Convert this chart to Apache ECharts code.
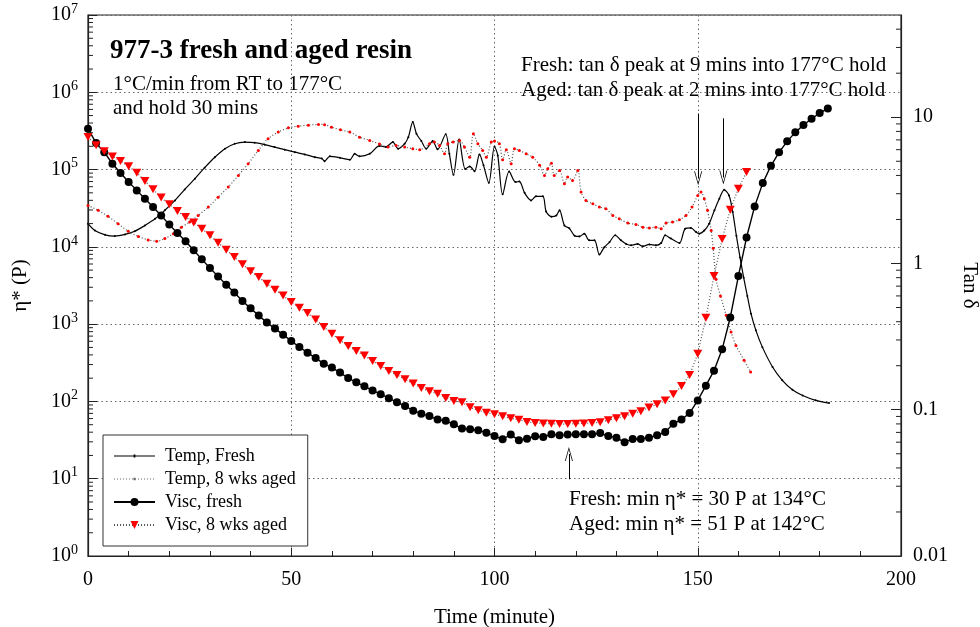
<!DOCTYPE html>
<html><head><meta charset="utf-8">
<script src="https://cdn.jsdelivr.net/npm/echarts@6/dist/echarts.min.js"></script>
<style>html,body{margin:0;padding:0;background:#fff}#c{width:980px;height:627px}</style>
</head><body><div id="c"></div>
<script>
// ---- data ----
const viscFreshTime = [0,2,4,6,8,10,12,14,16,18,20,22,24,26,28,30,32,34,36,38,40,42,44,46,48,50,52,54,56,58,60,62,64,66,68,70,72,74,76,78,80,82,84,86,88,90,92,94,96,98,100,102,104,106,108,110,112,114,116,118,120,122,124,126,128,130,132,134,136,138,140,142,144,146,148,150,152,154,156,158,160,162,164,166,168,170,172,174,176,178,180,182];
const viscFreshVal = [338000,220000,168000,119000,90200,69000,53800,42000,32700,25500,
  19400,15100,11800,9020,6890,5320,4150,3240,2560,1990,
  1600,1290,1050,875,731,604,506,428,364,308,
  274,236,201,177,157,139,124,110,97.3,87.3,
  75.9,69.5,64.6,58.2,56.1,50.6,44.5,43.6,42.3,39.4,
  35.6,32.4,37.2,31.4,33.0,35.4,34.6,37.5,36.4,37.2,
  37.5,37.5,37.5,39.0,35.6,34.0,29.6,32.7,32.7,34.0,
  36.4,40.2,51.6,58.2,70.8,103,160,250,472,1220,
  4190,13200,33400,66800,112000,167000,232000,303000,377000,455000,538000,619000];
const viscAgedTime = [0,2,4,6,8,10,12,14,16,18,20,22,24,26,28,30,32,34,36,38,40,42,44,46,48,50,52,54,56,58,60,62,64,66,68,70,72,74,76,78,80,82,84,86,88,90,92,94,96,98,100,102,104,106,108,110,112,114,116,118,120,122,124,126,128,130,132,134,136,138,140,142,144,146,148,150,152,154,156,158,160,162];
const viscAgedVal = [263000,206000,173000,148000,129000,110000,91200,71000,55500,43400,
  35500,29000,24300,20600,17200,14100,11300,9200,7380,5940,
  4820,4060,3340,2790,2340,1930,1630,1390,1150,918,
  753,617,521,449,392,333,287,247,220,193,
  170,149,135,126,111,101,97.3,83.9,76.7,71.6,
  68.1,64.3,60.4,57.8,54.2,52.7,51.9,51.3,51.0,51.0,
  51.6,51.9,52.6,53.7,57.0,60.4,64.1,69.5,74.5,83.2,
  91.6,103,124,158,220,415,1210,4190,12600,30300,
  56600,92900];
const tanFreshTime = [0,1.7,4.2,6.6,9.1,11.5,14,16.5,18.9,21.4,
  23.8,26.3,28.7,31.2,33.7,36.1,38.6,41,43.5,45.9,
  48.4,50.9,53.3,55.8,57.5,58.2,59.5,62,64.4,65.6,
  66.8,69.3,71.7,73.3,75,76.3,77.9,78.8,79.9,80.8,
  82,83.2,84.8,86,88,88.9,89.9,91.3,92.8,93.9,
  95.1,96.3,97.3,98.6,100,100.8,102,103.6,105.2,106.1,
  107.4,109,110.2,111.9,112.7,114,115.2,116,117.2,118.4,
  119.7,120.9,122.1,123.3,124.6,125.8,127,128.3,129.7,131.1,
  132.4,133.6,135.2,136.5,138.1,139.7,141,142,143.4,145.5,
  146.9,148.3,149.6,150.4,151.6,152.8,154.1,155.3,156.5,157.7,
  158.6,159.5,160.4,161.3,162.2,163.1,164.3,165.9,168.4,170.8,
  173.3,175.8,179,182.3];
const tanFreshVal = [1.87,1.68,1.57,1.54,1.58,1.66,1.82,2.02,2.31,2.70,
  3.21,3.80,4.52,5.33,6.09,6.59,6.76,6.70,6.49,6.25,
  6.00,5.77,5.57,5.33,5.22,5.01,5.40,5.28,5.12,5.62,
  5.40,5.62,6.37,6.27,6.76,6.09,6.59,7.31,9.26,7.71,
  6.88,6.09,6.87,6.03,7.65,5.62,4.04,7.04,4.43,4.61,
  4.28,5.57,4.69,3.56,6.31,5.48,2.97,4.26,3.60,3.64,
  3.04,2.70,2.88,2.88,2.27,2.09,2.13,2.31,1.82,1.74,
  1.55,1.53,1.60,1.44,1.44,1.15,1.29,1.40,1.56,1.44,
  1.36,1.33,1.36,1.31,1.35,1.33,1.38,1.56,1.48,1.38,
  1.73,1.75,1.64,1.60,1.68,1.87,2.31,2.77,3.19,2.92,
  2.25,1.55,1.10,0.80,0.60,0.454,0.349,0.268,0.196,0.159,
  0.137,0.125,0.116,0.111];
const tanAgedTime = [0,2.5,4.9,7.4,9.9,12.4,14.8,16.9,18.9,21,
  23,25,27.1,29.6,32,34.5,37,39.4,41.9,44.3,
  46.8,49.3,51.7,54.2,56.7,58.2,59.9,62.1,64.4,66.8,
  69.3,71.7,73.8,75.8,77.9,79.9,81.6,84,85.2,86.5,
  87.7,88.5,89.8,91.4,92.6,93.9,94.8,95.9,97.1,98,
  99.2,100,101.2,102,102.9,104.1,104.9,106.1,107.8,109.4,
  111.1,112.3,113.1,114,114.7,116,117.2,118,119.2,120.5,
  121.3,122.5,124.2,125.8,127.4,129.1,130.7,132.8,134.8,136.5,
  138.1,139.7,141,142.2,143.8,145.5,147.1,148.6,150,150.8,
  151.6,152.4,153.3,153.8,154.5,155.6,157,158.2,159.4,161.4,
  163];
const tanAgedVal = [2.49,2.31,2.10,1.87,1.66,1.53,1.45,1.42,1.48,1.60,
  1.77,1.92,2.13,2.43,2.84,3.33,4.00,4.81,5.93,7.13,
  7.91,8.47,8.69,8.83,8.93,8.90,8.55,8.20,7.91,7.31,
  6.94,6.57,6.25,6.41,6.25,6.09,6.00,6.59,6.76,6.41,
  5.62,6.59,6.76,6.94,6.25,5.33,7.71,6.59,5.93,5.33,
  6.76,6.87,6.59,5.12,6.00,4.81,6.09,5.93,5.62,5.33,
  4.69,4.00,4.45,4.85,4.00,4.33,3.51,3.90,3.70,4.33,
  3.08,2.70,2.56,2.43,2.37,2.13,2.02,1.89,1.85,1.77,
  1.75,1.77,1.73,1.89,1.92,1.99,2.13,2.43,2.92,3.08,
  2.77,2.31,1.68,1.27,0.78,0.60,0.442,0.340,0.275,0.218,
  0.181];
const seriesNames = ['Temp, Fresh','Temp, 8 wks aged','Visc, fresh','Visc, 8 wks aged'];
const xTickStep = 50;
// annotation anchors (data space)
const arrowAged = [[150.1, 10.6],[150.1, 3.82]];
const arrowFresh = [[156.3, 9.83],[156.3, 3.87]];
const arrowMin = [[118.3, 9.83],[118.3, 20.9]];

// ---- chart ----
const FONT = 'Liberation Serif';
const pairs = (ts, vs) => ts.map((t, i) => [t, vs[i]]);
const leftMinor = [];
for (let e = 0; e < 7; e++) for (let m = 2; m <= 9; m++) leftMinor.push([0, m * Math.pow(10, e)]);
const rightMinor = [];
for (let e = -2; e <= 1; e++) for (let m = 2; m <= 9; m++) { const v = +(m * Math.pow(10, e)).toPrecision(3); if (v < 50) rightMinor.push([200, v]); }

function tickRender(dir) {
  return function (params, api) {
    const p = api.coord([api.value(0), api.value(1)]);
    return { type: 'line', shape: { x1: p[0], y1: p[1], x2: p[0] + dir * 5, y2: p[1] },
      style: { stroke: '#222', lineWidth: 1 } };
  };
}
const arrowSym = 'path://M5,0 L10,14 L9,14 L5,2.6 L1,14 L0,14 Z';

let dotted = 'path://M0,0 L0.01,0 L0,0.01 Z M41,10 L40.99,10 L41,9.99 Z';
for (let x = 0; x <= 39; x += 3) dotted += ' M' + x + ',4.5 L' + (x + 1) + ',4.5 L' + (x + 1) + ',5.5 L' + x + ',5.5 Z';
dotted += ' M19.5,3.8 L21.5,3.8 L21.5,6.2 L19.5,6.2 Z';
const solid = 'path://M0,0 L0.01,0 L0,0.01 Z M41,10 L40.99,10 L41,9.99 Z M0,4.5 L41,4.5 L41,5.5 L0,5.5 Z M19.6,3.6 L21.4,3.6 L21.4,6.4 L19.6,6.4 Z';

const chart = echarts.init(document.getElementById('c'));
const lbl = { fontFamily: FONT, fontSize: 20, color: '#000' };
chart.setOption({
  animation: false,
  backgroundColor: '#fff',
  grid: { left: 88, right: 79, top: 15, bottom: 71, show: true, borderColor: '#222', borderWidth: 1.2, backgroundColor: 'transparent', containLabel: false, outerBoundsMode: 'none' },
  legend: {
    orient: 'vertical', left: 103, top: 435, padding: [11, 12, 11, 10], itemGap: 3,
    itemWidth: 41, itemHeight: 10, borderColor: '#333', borderWidth: 1, backgroundColor: '#fff', borderRadius: 0,
    textStyle: { fontFamily: FONT, fontSize: 18, color: '#000', lineHeight: 20, padding: [0, 0, 0, 5] },
    data: [
      { name: seriesNames[0], icon: solid, itemStyle: { color: '#000', borderWidth: 0 } },
      { name: seriesNames[1], icon: dotted, itemStyle: { color: '#666', borderWidth: 0 } },
      { name: seriesNames[2] },
      { name: seriesNames[3] }
    ]
  },
  xAxis: {
    type: 'value', min: 0, max: 200, interval: xTickStep,
    name: 'Time (minute)', nameLocation: 'middle', nameGap: 51,
    nameTextStyle: { fontFamily: FONT, fontSize: 21, color: '#000' },
    axisLine: { lineStyle: { color: '#222', width: 1.2 } },
    axisTick: { inside: true, length: 8, lineStyle: { color: '#222' } },
    minorTick: { show: true, splitNumber: 5, length: 5, lineStyle: { color: '#222' } },
    axisLabel: Object.assign({ margin: 14 }, lbl),
    splitLine: { show: true, lineStyle: { color: '#666', type: [1.5, 3], width: 1 } }
  },
  yAxis: [
    {
      type: 'log', logBase: 10, min: 1, max: 1e7, position: 'left',
      name: 'η* (P)', nameLocation: 'middle', nameGap: 57,
      nameTextStyle: { fontFamily: FONT, fontSize: 21, color: '#000' },
      axisLine: { show: true, lineStyle: { color: '#222', width: 1.2 } },
      axisTick: { inside: true, length: 9, lineStyle: { color: '#222' } },
      axisLabel: {
        margin: 10,
        formatter: v => '{a|10}{b|' + Math.round(Math.log10(v)) + '}',
        rich: {
          a: { fontFamily: FONT, fontSize: 20, color: '#000', lineHeight: 26 },
          b: { fontFamily: FONT, fontSize: 14, color: '#000', lineHeight: 12, verticalAlign: 'top' }
        }
      },
      splitLine: { show: true, lineStyle: { color: '#666', type: [1.5, 3], width: 1 } }
    },
    {
      type: 'log', logBase: 10, min: 0.01, max: 50, position: 'right',
      name: 'Tan δ', nameLocation: 'middle', nameGap: 55, nameRotate: -90,
      nameTextStyle: { fontFamily: FONT, fontSize: 21, color: '#000' },
      axisLine: { show: true, lineStyle: { color: '#222', width: 1.2 } },
      axisTick: { inside: true, length: 10, lineStyle: { color: '#222' } },
      axisLabel: Object.assign({ margin: 12, showMaxLabel: false, formatter: v => String(+(+v).toPrecision(3)) }, lbl),
      splitLine: { show: false }
    }
  ],
  series: [
    {
      name: seriesNames[0], type: 'line', yAxisIndex: 1, data: pairs(tanFreshTime, tanFreshVal),
      smooth: 0.3, symbol: 'circle', symbolSize: 2, showSymbol: true,
      lineStyle: { color: '#000', width: 1.2 }, itemStyle: { color: '#000', borderWidth: 0 }, z: 3,
      markLine: {
        silent: true, symbol: ['none', arrowSym], symbolSize: [8, 14],
        lineStyle: { color: '#000', width: 1, type: 'solid' }, label: { show: false },
        data: [
          [{ coord: arrowAged[0] }, { coord: arrowAged[1] }],
          [{ coord: arrowFresh[0] }, { coord: arrowFresh[1] }]
        ]
      }
    },
    {
      name: seriesNames[1], type: 'line', yAxisIndex: 1, data: pairs(tanAgedTime, tanAgedVal),
      smooth: 0.3, symbol: 'circle', symbolSize: 3, showSymbol: true,
      lineStyle: { color: '#555', width: 1.2, type: [1, 2] }, itemStyle: { color: '#ff0000', borderWidth: 0 }, z: 3
    },
    {
      name: seriesNames[2], type: 'line', yAxisIndex: 0, data: pairs(viscFreshTime, viscFreshVal),
      symbol: 'circle', symbolSize: 8, showSymbol: true,
      lineStyle: { color: '#000', width: 1.4 }, itemStyle: { color: '#000', borderWidth: 0 }, z: 4,
      markLine: {
        silent: true, symbol: ['none', arrowSym], symbolSize: [8, 14],
        lineStyle: { color: '#000', width: 1, type: 'solid' }, label: { show: false },
        data: [[{ coord: arrowMin[0] }, { coord: arrowMin[1] }]]
      }
    },
    {
      name: seriesNames[3], type: 'line', yAxisIndex: 0, data: pairs(viscAgedTime, viscAgedVal),
      symbol: 'triangle', symbolRotate: 180, symbolSize: [9, 8], showSymbol: true,
      lineStyle: { color: '#555', width: 1.2, type: [1, 2] }, itemStyle: { color: '#ff0000', borderWidth: 0 }, z: 5
    },
    { type: 'custom', yAxisIndex: 0, silent: true, clip: false, data: leftMinor, renderItem: tickRender(1), encode: { x: 0, y: 1 }, z: 6 },
    { type: 'custom', yAxisIndex: 1, silent: true, clip: false, data: rightMinor, renderItem: tickRender(-1), encode: { x: 0, y: 1 }, z: 6 }
  ],
  graphic: [
    { type: 'text', x: 110, y: 51, z: 10, style: { text: '977-3 fresh and aged resin', fontFamily: FONT, fontSize: 27, fontWeight: 'bold', fill: '#000', verticalAlign: 'middle' } },
    { type: 'text', x: 113, y: 84, z: 10, style: { text: '1°C/min from RT to 177°C', fontFamily: FONT, fontSize: 21, fill: '#000', verticalAlign: 'middle' } },
    { type: 'text', x: 113, y: 108, z: 10, style: { text: 'and hold 30 mins', fontFamily: FONT, fontSize: 21, fill: '#000', verticalAlign: 'middle' } },
    { type: 'text', x: 521, y: 65, z: 10, style: { text: 'Fresh: tan δ peak at 9 mins into 177°C hold', fontFamily: FONT, fontSize: 21, fill: '#000', verticalAlign: 'middle' } },
    { type: 'text', x: 521, y: 90, z: 10, style: { text: 'Aged: tan δ peak at 2 mins into 177°C hold', fontFamily: FONT, fontSize: 21, fill: '#000', verticalAlign: 'middle' } },
    { type: 'text', x: 569, y: 499, z: 10, style: { text: 'Fresh: min η* = 30 P at 134°C', fontFamily: FONT, fontSize: 21, fill: '#000', verticalAlign: 'middle' } },
    { type: 'text', x: 569, y: 524, z: 10, style: { text: 'Aged: min η* = 51 P at 142°C', fontFamily: FONT, fontSize: 21, fill: '#000', verticalAlign: 'middle' } }
  ]
});
</script>
</body></html>
